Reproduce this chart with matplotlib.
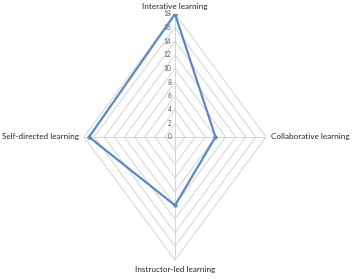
import numpy as np
import matplotlib
matplotlib.use('Agg')
import matplotlib.pyplot as plt

categories = ['Interative learning', 'Collaborative learning',
              'Instructor-led learning', 'Self-directed learning']
values = [18, 8, 10, 17]
ticks = [0, 2, 4, 6, 8, 10, 12, 14, 16, 18]
rmax = 18

plt.rcParams['font.family'] = ['Lato', 'DejaVu Sans']

fig = plt.figure(figsize=(3.53, 2.79), dpi=100)
ax = fig.add_axes([0.238, 0.068, 0.5156, 0.882])
ax.set_xlim(-rmax, rmax)
ax.set_ylim(-rmax, rmax)
ax.axis('off')

# angles: top, right, bottom, left
angles = np.pi / 2 - np.arange(len(categories)) * 2 * np.pi / len(categories)
ux, uy = np.cos(angles), np.sin(angles)

grid_col = '#d4d4d4'
for r in ticks[1:]:
    ax.plot(np.append(ux, ux[0]) * r, np.append(uy, uy[0]) * r,
            color=grid_col, lw=0.7, zorder=1)
for i in range(len(categories)):
    ax.plot([0, ux[i] * rmax], [0, uy[i] * rmax], color=grid_col, lw=0.7, zorder=1)

# tick labels on the vertical axis
for t in ticks:
    ax.text(-0.7, t, str(t), ha='right', va='center', fontsize=4.8, color='#595959')

vals = np.array(values, dtype=float)
ax.plot(np.append(ux * vals, ux[0] * vals[0]), np.append(uy * vals, uy[0] * vals[0]),
        color='#5a8ac6', lw=1.6, marker='o', markersize=2.2, zorder=3)

# category labels
fs = 5.9
tc = '#262626'
ax.text(0, rmax + 0.6, categories[0], ha='center', va='bottom', fontsize=fs, color=tc)
ax.text(rmax + 0.9, 0, categories[1], ha='left', va='center', fontsize=fs, color=tc)
ax.text(0, -rmax - 0.9, categories[2], ha='center', va='top', fontsize=fs, color=tc)
ax.text(-rmax - 0.9, 0, categories[3], ha='right', va='center', fontsize=fs, color=tc)

fig.savefig('out.png', dpi=100)
